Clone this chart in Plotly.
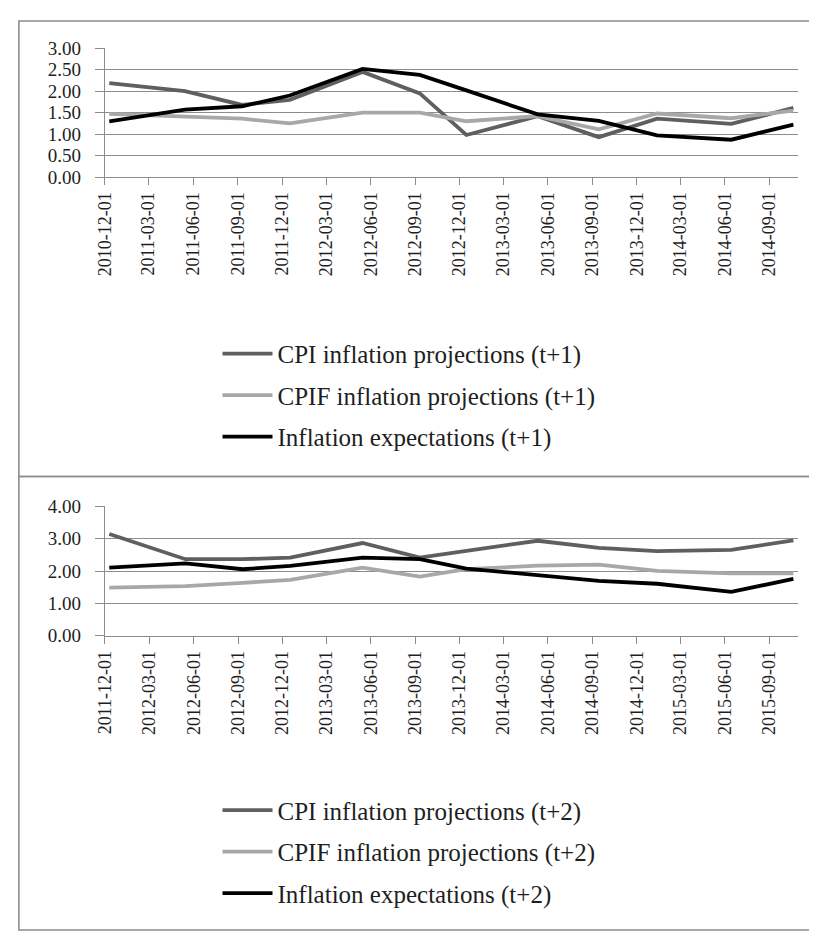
import plotly.graph_objects as go

# ---------------- data ----------------
dates_t1 = ["2010-12-10", "2011-05-15", "2011-09-10", "2011-12-17", "2012-05-15", "2012-09-10",
            "2012-12-15", "2013-05-11", "2013-09-14", "2014-01-12", "2014-06-14", "2014-10-20"]
cpi_t1 = [2.19, 2.00, 1.68, 1.80, 2.45, 1.95, 0.98, 1.42, 0.93, 1.36, 1.24, 1.61]
cpif_t1 = [1.47, 1.42, 1.36, 1.25, 1.50, 1.50, 1.30, 1.42, 1.11, 1.48, 1.37, 1.55]
exp_t1 = [1.30, 1.57, 1.65, 1.90, 2.52, 2.38, 2.02, 1.46, 1.31, 0.97, 0.87, 1.22]

dates_t2 = ["2011-12-10", "2012-05-15", "2012-09-10", "2012-12-17", "2013-05-15", "2013-09-10",
            "2013-12-15", "2014-05-11", "2014-09-14", "2015-01-12", "2015-06-14", "2015-10-20"]
cpi_t2 = [3.15, 2.37, 2.37, 2.42, 2.87, 2.42, 2.63, 2.94, 2.72, 2.62, 2.66, 2.95]
cpif_t2 = [1.49, 1.54, 1.64, 1.73, 2.11, 1.83, 2.06, 2.17, 2.20, 2.01, 1.93, 1.93]
exp_t2 = [2.11, 2.24, 2.06, 2.16, 2.42, 2.37, 2.08, 1.86, 1.70, 1.61, 1.36, 1.76]

ticks_t1 = ["2010-12-01", "2011-03-01", "2011-06-01", "2011-09-01", "2011-12-01", "2012-03-01",
            "2012-06-01", "2012-09-01", "2012-12-01", "2013-03-01", "2013-06-01", "2013-09-01",
            "2013-12-01", "2014-03-01", "2014-06-01", "2014-09-01"]
ticks_t2 = ["2011-12-01", "2012-03-01", "2012-06-01", "2012-09-01", "2012-12-01", "2013-03-01",
            "2013-06-01", "2013-09-01", "2013-12-01", "2014-03-01", "2014-06-01", "2014-09-01",
            "2014-12-01", "2015-03-01", "2015-06-01", "2015-09-01"]

names_t1 = ["CPI inflation projections (t+1)", "CPIF inflation projections (t+1)", "Inflation expectations (t+1)"]
names_t2 = ["CPI inflation projections (t+2)", "CPIF inflation projections (t+2)", "Inflation expectations (t+2)"]

# ---------------- style ----------------
# the page body has an 8px margin, so the figure is drawn 8px in from the top-left
OFF = 8
W, H = 817 - OFF, 944 - OFF
SERIF = "Liberation Serif, Times New Roman, serif"
colors = ["#5f5f5f", "#a8a8a8", "#000000"]
GRID = "#8c8c8c"
TXT = "#1e1e1e"

fig = go.Figure()

for i, (ys, nm) in enumerate(zip([cpi_t1, cpif_t1, exp_t1], names_t1)):
    fig.add_trace(go.Scatter(x=dates_t1, y=ys, name=nm, mode="lines",
                             line=dict(color=colors[i], width=3.8),
                             xaxis="x", yaxis="y", legend="legend",
                             legendgroup="a%d" % i))
for i, (ys, nm) in enumerate(zip([cpi_t2, cpif_t2, exp_t2], names_t2)):
    fig.add_trace(go.Scatter(x=dates_t2, y=ys, name=nm, mode="lines",
                             line=dict(color=colors[i], width=3.8),
                             xaxis="x2", yaxis="y2", legend="legend2",
                             legendgroup="b%d" % i))


def px_x(p):
    return (p - OFF) / W


def px_y(p):
    return 1 - (p - OFF) / H


xcommon = dict(type="date", tickangle=-90, ticks="outside", ticklen=7, tickcolor=GRID,
               showline=True, linecolor=GRID, linewidth=1, showgrid=False, zeroline=False,
               tickfont=dict(family=SERIF, size=18, color=TXT), fixedrange=True)
ycommon = dict(showgrid=True, gridcolor=GRID, gridwidth=1, showline=True, linecolor=GRID,
               ticks="outside", ticklen=9, tickcolor=GRID, zeroline=False, tickformat=".2f",
               tickfont=dict(family=SERIF, size=19, color=TXT), ticklabelstandoff=10,
               fixedrange=True)

legcommon = dict(xanchor="left", yanchor="top", bgcolor="rgba(0,0,0,0)",
                 font=dict(family=SERIF, size=25, color=TXT), tracegroupgap=6,
                 itemwidth=50)

fig.update_layout(
    width=W, height=H,
    margin=dict(l=0, r=0, t=0, b=0),
    paper_bgcolor="white", plot_bgcolor="white",
    xaxis=dict(xcommon, domain=[px_x(96), px_x(798)], anchor="y",
               range=["2010-12-01", "2014-10-30"], tickvals=ticks_t1, ticktext=ticks_t1),
    yaxis=dict(ycommon, domain=[px_y(170.7), px_y(39)], anchor="x", range=[0, 3], dtick=0.5),
    xaxis2=dict(xcommon, domain=[px_x(96), px_x(798)], anchor="y2",
                range=["2011-12-01", "2015-10-30"], tickvals=ticks_t2, ticktext=ticks_t2),
    yaxis2=dict(ycommon, domain=[px_y(640), px_y(507.7)], anchor="x2", range=[0, 4], dtick=1),
    legend=dict(legcommon, x=px_x(210), y=px_y(328)),
    legend2=dict(legcommon, x=px_x(210), y=px_y(795)),
    showlegend=True,
    shapes=[
        dict(type="rect", xref="paper", yref="paper", x0=0.9 / W, x1=1.01,
             y0=px_y(477), y1=px_y(11), line=dict(color=GRID, width=1.6), layer="below"),
        dict(type="rect", xref="paper", yref="paper", x0=0.9 / W, x1=1.01,
             y0=px_y(941), y1=px_y(477), line=dict(color=GRID, width=1.6), layer="below"),
    ],
)

fig.write_html("out.html")
